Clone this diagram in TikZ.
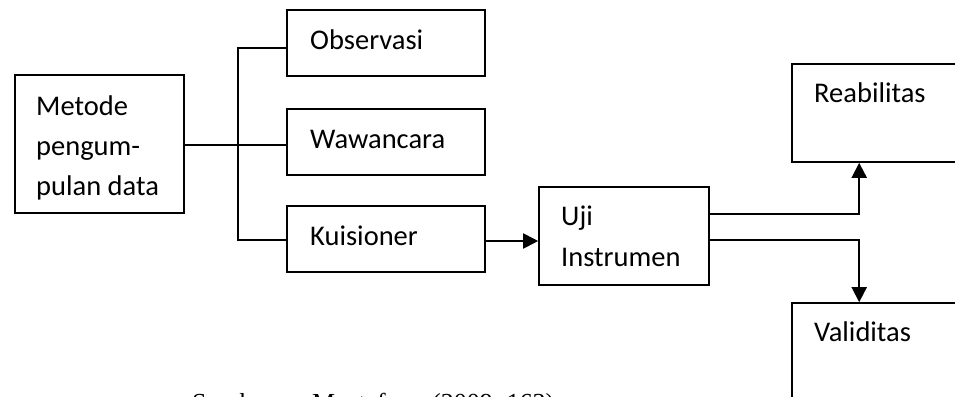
\documentclass[tikz,border=0pt]{standalone}
\usepackage{fontspec}
\setmainfont{Carlito}
\newfontfamily\capserif{Liberation Serif}
\usetikzlibrary{arrows.meta}
\begin{document}
\begin{tikzpicture}[x=1pt,y=-1pt,
  box/.style={draw, line width=1.6pt, inner sep=0pt},
  lbl/.style={anchor=base west, inner sep=0pt, font=\fontsize{28.5}{34}\selectfont},
  srclbl/.style={anchor=base west, inner sep=0pt, font=\capserif\fontsize{26}{30}\selectfont},
  conn/.style={line width=1.6pt},
  arr/.style={line width=1.9pt, -{Triangle[length=15pt,width=15pt]}}]
\useasboundingbox (0,0) rectangle (955,396);
\clip (0,0) rectangle (955,396);
% boxes
\node[box, minimum width=169pt, minimum height=138pt] (metode) at (99.5,144) {};
\node[box, minimum width=198pt, minimum height=66pt] (obs) at (386,43) {};
\node[box, minimum width=198pt, minimum height=66pt] (waw) at (386,142) {};
\node[box, minimum width=198pt, minimum height=66pt] (kuis) at (386,239) {};
\node[box, minimum width=170pt, minimum height=98pt] (uji) at (624,236) {};
\node[box, minimum width=208pt, minimum height=98pt] (reab) at (896,113) {};
\node[box, minimum width=208pt, minimum height=140pt] (valid) at (896,373) {};
% texts
\node[lbl] (t1) at (36,115) {Metode};
\node[lbl] (t2) at (36,155) {pengum-};
\node[lbl] (t3) at (36,195) {pulan data};
\node[lbl] (tobs) at (310,50) {Observasi};
\node[lbl] (twaw) at (310,148) {Wawancara};
\node[lbl] (tkuis) at (310,245) {Kuisioner};
\node[lbl] (tuji1) at (561,225) {Uji};
\node[lbl] (tuji2) at (561,266.5) {Instrumen};
\node[lbl] (treab) at (814,102.5) {Reabilitas};
\node[lbl] (tvalid) at (814,341.5) {Validitas};
\node[srclbl] (src1) at (192,411) {Sumber:};
\node[srclbl] (src2) at (312,411) {Mustafa};
\node[srclbl] (src3) at (432,411) {(2009:\ 163)};
% connectors
\coordinate (jt) at (238,48);
\coordinate (jb) at (238,240);
\draw[conn] (metode.east |- 0,145) -- (waw.west |- 0,145);
\draw[conn] ([yshift=-5pt]obs.west) -- (jt) -- (jb) -- (kuis.west |- jb);
\draw[arr] ([yshift=-2pt]kuis.east) -- (uji.west |- 0,241);
\draw[arr] (uji.east |- 0,214) -| ([xshift=68pt]reab.south west);
\draw[arr] (uji.east |- 0,240) -| ([xshift=68pt]valid.north west);
\end{tikzpicture}
\end{document}
